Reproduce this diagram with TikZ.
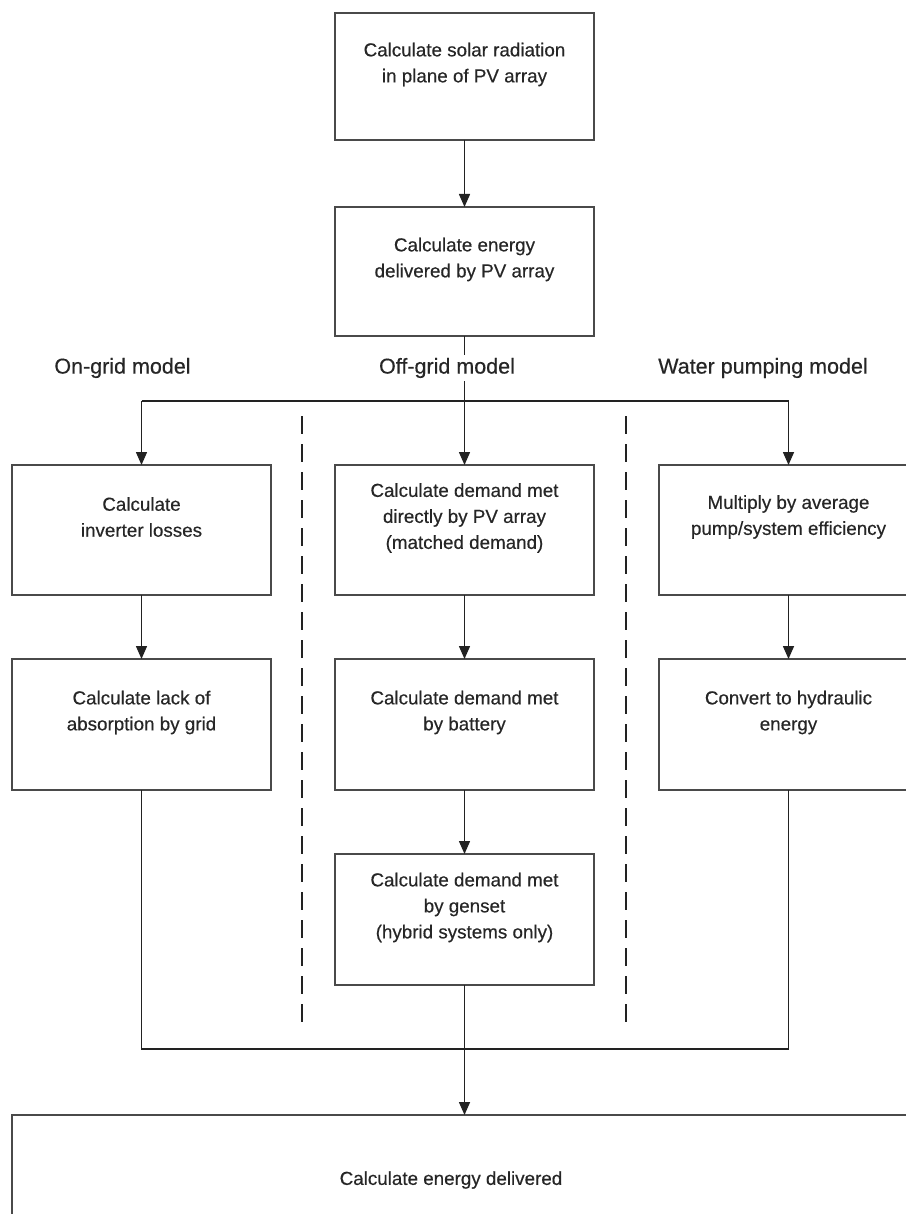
\documentclass[tikz,border=0pt]{standalone}
\usepackage{fontspec}
\setmainfont[FakeBold=0.4]{Liberation Sans}
\usetikzlibrary{arrows.meta}
\definecolor{boxgray}{HTML}{4A4A4A}
\definecolor{linegray}{HTML}{222222}
\definecolor{txtgray}{HTML}{262626}
\begin{document}
\begin{tikzpicture}[x=1pt,y=-1pt,
  box/.style={draw=boxgray, line width=2pt, minimum width=259pt, inner sep=0pt, outer sep=0pt, anchor=north west},
  txt/.style={align=center, font=\fontsize{18.8}{26}\selectfont, text=txtgray, inner sep=0pt},
  lbl/.style={font=\fontsize{21.5}{26}\selectfont, text=txtgray, fill=white, inner sep=3pt},
  conn/.style={line width=1.5pt, draw=linegray},
  arr/.style={conn, -{Triangle[length=13pt,width=11pt]}},
  dashline/.style={line width=1.6pt, draw=linegray, dash pattern=on 18pt off 10pt}]
\useasboundingbox (0,0) rectangle (905,1214);

% boxes
\node[box, minimum height=127pt] (b1) at (335,13) {};
\node[box, minimum height=129pt] (b2) at (335,207) {};
\node[box, minimum height=130pt] (l1) at (12,465) {};
\node[box, minimum height=130pt] (m1) at (335,465) {};
\node[box, minimum height=130pt] (r1) at (659,465) {};
\node[box, minimum height=131pt] (l2) at (12,659) {};
\node[box, minimum height=131pt] (m2) at (335,659) {};
\node[box, minimum height=131pt] (r2) at (659,659) {};
\node[box, minimum height=131pt] (g) at (335,854) {};
\node[box, minimum width=905pt, minimum height=150pt] (fin) at (12,1115) {};

% texts
\node[txt] (tb1) at ([yshift=12pt]b1.center) {Calculate solar radiation\\in plane of PV array};
\node[txt] (tb2) at ([yshift=12pt]b2.center) {Calculate energy\\delivered by PV array};
\node[txt] (tl1) at ([yshift=13pt]l1.center) {Calculate\\inverter losses};
\node[txt] (tm1) at ([yshift=12pt]m1.center) {Calculate demand met\\directly by PV array\\(matched demand)};
\node[txt] (tr1) at ([yshift=13pt]r1.center) {Multiply by average\\pump/system efficiency};
\node[txt] (tl2) at ([yshift=12pt]l2.center) {Calculate lack of\\absorption by grid};
\node[txt] (tm2) at ([yshift=12pt]m2.center) {Calculate demand met\\by battery};
\node[txt] (tr2) at ([yshift=12pt]r2.center) {Convert to hydraulic\\energy};
\node[txt] (tg) at ([yshift=12pt]g.center) {Calculate demand met\\by genset\\(hybrid systems only)};
\node[txt] (tfin) at (451,1180) {Calculate energy delivered};

% connectors
\coordinate (hm) at (b2.south |- 0,401);
\coordinate (hl) at (l1.north |- hm);
\coordinate (hr) at (r1.north |- hm);
\coordinate (bl) at (l2.south |- 0,1049);
\coordinate (br) at (r2.south |- bl);

\draw[arr] (b1.south) -- (b2.north);
\draw[conn] (b2.south) -- (hm);
\draw[conn] (hl) -- (hr);
\draw[arr] (hl) -- (l1.north);
\draw[arr] (hm) -- (m1.north);
\draw[arr] (hr) -- (r1.north);
\draw[arr] (l1.south) -- (l2.north);
\draw[arr] (m1.south) -- (m2.north);
\draw[arr] (r1.south) -- (r2.north);
\draw[arr] (m2.south) -- (g.north);
\draw[conn] (l2.south) -- (bl) -- (br) -- (r2.south);
\draw[arr] (g.south) -- (g.south |- fin.north);

% dashed separators
\coordinate (d1a) at (302,416);
\coordinate (d1b) at (302,1025);
\coordinate (d2a) at (626,416);
\coordinate (d2b) at (626,1025);
\draw[dashline] (d1a) -- (d1b);
\draw[dashline] (d2a) -- (d2b);

% model labels
\node[lbl] (on) at (122.5,368) {On-grid model};
\node[lbl] (off) at (447,368) {Off-grid model};
\node[lbl] (wp) at (763,368) {Water pumping model};
\end{tikzpicture}
\end{document}
